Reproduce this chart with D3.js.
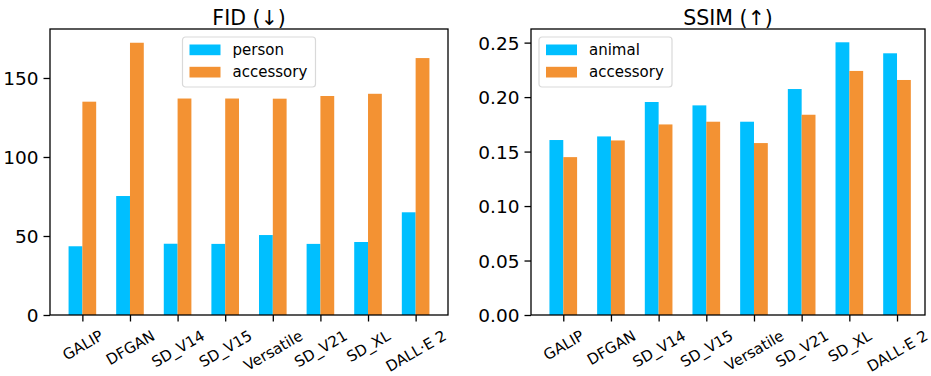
<!DOCTYPE html>
<html>
<head>
<meta charset="utf-8">
<script src="https://cdn.jsdelivr.net/npm/d3@7"></script>
<style>
  body { margin: 0; background: #fff; }
  svg { font-family: "DejaVu Sans", sans-serif; }
</style>
</head>
<body>
<svg id="chart" width="931" height="376"></svg>
<script>
// data
var models = ["GALIP", "DFGAN", "SD_V14", "SD_V15", "Versatile", "SD_V21", "SD_XL", "DALL\u00B7E 2"];
var fidPerson    = [43.5, 75.3, 45.1, 45.0, 50.6, 45.0, 46.2, 65.0];
var fidAccessory = [135.0, 172.3, 137.0, 137.0, 136.9, 138.6, 140.0, 162.6];
var ssimAnimal    = [0.1606, 0.1639, 0.1955, 0.1924, 0.1774, 0.2074, 0.2503, 0.2402];
var ssimAccessory = [0.1449, 0.1602, 0.1749, 0.1774, 0.1578, 0.1838, 0.2240, 0.2157];
var fidTicks  = [0, 50, 100, 150];
var ssimTicks = [0, 0.05, 0.10, 0.15, 0.20, 0.25];

var blue = "#00bfff", orange = "#f39233";
var barW = 0.29;

var svg = d3.select("#chart");

function panel(opt) {
	var x = d3.scaleLinear().domain(opt.xdom).range([opt.left, opt.right]);
	var y = d3.scaleLinear().domain(opt.ydom).range([315, 29]);
	var g = svg.append("g");

	// bars
	var series = [{vals: opt.a, col: blue, off: -barW}, {vals: opt.b, col: orange, off: 0}];
	series.forEach(function(s){
		g.selectAll(null)
			.data(s.vals)
			.enter().append("rect")
				.attr("fill", s.col)
				.attr("x", function(d, i){ return x(i + s.off); })
				.attr("width", x(barW) - x(0))
				.attr("y", function(d){ return y(d); })
				.attr("height", function(d){ return y(0) - y(d); });
	});

	// frame
	g.append("rect")
		.attr("x", opt.left).attr("y", 29)
		.attr("width", opt.right - opt.left).attr("height", 286)
		.attr("fill", "none").attr("stroke", "#000").attr("stroke-width", 1.3);

	// y axis
	var ya = g.append("g")
		.attr("transform", "translate(" + opt.left + ",0)")
		.call(d3.axisLeft(y).tickValues(opt.ticks).tickFormat(opt.fmt).tickSize(6.5).tickPadding(5));
	ya.select(".domain").remove();
	ya.selectAll("line").attr("stroke-width", 1.3);
	ya.selectAll("text").attr("font-size", 18.5).attr("fill", "#000")
		.attr("font-family", "DejaVu Sans").attr("dy", "0.36em");

	// x axis
	var xa = g.append("g")
		.attr("transform", "translate(0,315)")
		.call(d3.axisBottom(x).tickValues(d3.range(models.length)).tickFormat(function(i){ return models[i]; }).tickSize(6.5));
	xa.select(".domain").remove();
	xa.selectAll("line").attr("stroke-width", 1.3);
	xa.selectAll("text")
		.attr("font-size", 15).attr("fill", "#000").attr("font-family", "DejaVu Sans")
		.attr("dy", null)
		.attr("text-anchor", "middle")
		.attr("dominant-baseline", "central")
		.each(function(){
			var t = d3.select(this);
			var w = this.getComputedTextLength();
			var h = 15;
			var cy = 13 + (w * 0.5 + h * 0.866) / 2;
			t.attr("y", cy).attr("transform", "rotate(-30,0," + cy + ")");
		});

	// title
	g.append("text")
		.attr("x", (opt.left + opt.right) / 2).attr("y", 25)
		.attr("text-anchor", "middle").attr("font-size", 20.5).attr("fill", "#000")
		.text(opt.title);

	// legend
	var lg = g.append("g").attr("transform", "translate(" + opt.legX + ",37)");
	lg.append("rect")
		.attr("width", 133).attr("height", 50).attr("rx", 3)
		.attr("fill", "#fff").attr("fill-opacity", 0.8)
		.attr("stroke", "#d9d9d9").attr("stroke-width", 1.2);
	[[opt.names[0], blue], [opt.names[1], orange]].forEach(function(d, i){
		lg.append("rect").attr("x", 7).attr("y", 7.5 + i * 22.3)
			.attr("width", 31).attr("height", 10.7).attr("fill", d[1]);
		lg.append("text").attr("x", 50).attr("y", 18 + i * 22.3)
			.attr("font-size", 15).attr("fill", "#000").text(d[0]);
	});
}

panel({
	title: "FID (\u2193)", left: 50, right: 448, xdom: [-0.68, 7.68], ydom: [0, 181],
	a: fidPerson, b: fidAccessory, ticks: fidTicks, fmt: d3.format("d"),
	names: ["person", "accessory"], legX: 182.5
});

panel({
	title: "SSIM (\u2191)", left: 531, right: 925, xdom: [-0.677, 7.587], ydom: [0, 0.2625],
	a: ssimAnimal, b: ssimAccessory, ticks: ssimTicks, fmt: d3.format(".2f"),
	names: ["animal", "accessory"], legX: 539
});
</script>
</body>
</html>
